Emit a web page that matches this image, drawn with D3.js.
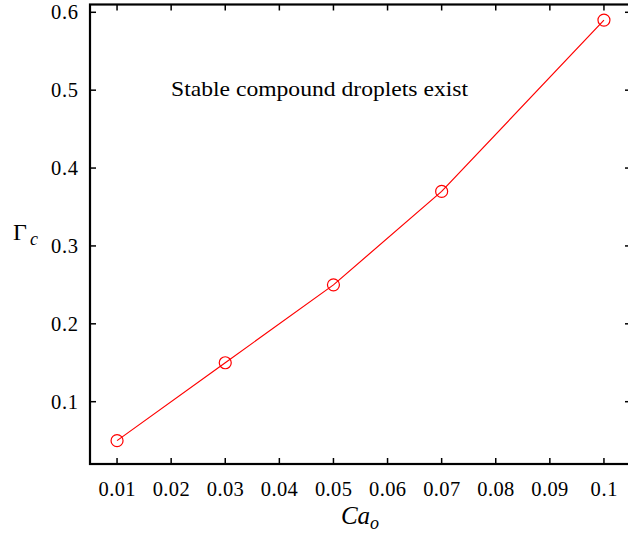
<!DOCTYPE html>
<html><head><meta charset="utf-8">
<script src="https://cdn.jsdelivr.net/npm/d3@7"></script>
<style>body{margin:0;background:#fff}text{font-family:"Liberation Serif","DejaVu Serif",serif;fill:#000}</style>
</head><body><svg id="c" width="628" height="537"></svg>
<script>
const caValues = [0.01, 0.03, 0.05, 0.07, 0.1];
const gammaValues = [0.05, 0.15, 0.25, 0.37, 0.59];
const xTicks = [0.01, 0.02, 0.03, 0.04, 0.05, 0.06, 0.07, 0.08, 0.09, 0.1];
const yTicks = [0.1, 0.2, 0.3, 0.4, 0.5, 0.6];
const annotation = "Stable compound droplets exist";

const svg = d3.select("#c");
const L = 90, R = 631, T = 4.5, B = 464;
const x = d3.scaleLinear().domain([0.005, 0.105]).range([L, R]);
const y = d3.scaleLinear().domain([0.02, 0.61]).range([B, T]);
const fmt = d => String(+d.toFixed(2));

// ticks (inward, mirrored)
const g = svg.append("g");
g.selectAll(".xb").data(xTicks).join("line").attr("x1", d => x(d)).attr("x2", d => x(d))
  .attr("y1", B).attr("y2", B - 6).attr("stroke", "#000").attr("stroke-width", 1.5);
g.selectAll(".xt").data(xTicks).join("line").attr("x1", d => x(d)).attr("x2", d => x(d))
  .attr("y1", T).attr("y2", T + 6).attr("stroke", "#000").attr("stroke-width", 1.5);
g.selectAll(".yl").data(yTicks).join("line").attr("x1", L).attr("x2", L + 6)
  .attr("y1", d => y(d)).attr("y2", d => y(d)).attr("stroke", "#000").attr("stroke-width", 1.5);
g.selectAll(".yr").data(yTicks).join("line").attr("x1", R).attr("x2", R - 6)
  .attr("y1", d => y(d)).attr("y2", d => y(d)).attr("stroke", "#000").attr("stroke-width", 1.5);

svg.append("rect").attr("x", L).attr("y", T).attr("width", R - L).attr("height", B - T)
  .attr("fill", "none").attr("stroke", "#000").attr("stroke-width", 2.2);

svg.selectAll(".xl").data(xTicks).join("text").attr("x", d => x(d)).attr("y", B + 32)
  .attr("text-anchor", "middle").attr("font-size", 20.5)
  .attr("textLength", d => fmt(d).length === 3 ? 27 : 37).attr("lengthAdjust", "spacing").text(fmt);
svg.selectAll(".ylab").data(yTicks).join("text").attr("x", L - 12).attr("y", d => y(d) + 7)
  .attr("text-anchor", "end").attr("font-size", 20.5)
  .attr("textLength", 27).attr("lengthAdjust", "spacing").text(fmt);

// line + markers
const pts = caValues.map((c, i) => [c, gammaValues[i]]);
svg.append("path").datum(pts).attr("fill", "none").attr("stroke", "#ff0000").attr("stroke-width", 1.2)
  .attr("d", d3.line().x(d => x(d[0])).y(d => y(d[1])));
svg.selectAll(".pt").data(pts).join("circle").attr("cx", d => x(d[0])).attr("cy", d => y(d[1]))
  .attr("r", 6).attr("fill", "none").attr("stroke", "#ff0000").attr("stroke-width", 1.2);

svg.append("text").attr("x", 171).attr("y", 96).attr("font-size", 22)
  .attr("textLength", 297).attr("lengthAdjust", "spacingAndGlyphs").text(annotation);

// axis labels
const yl = svg.append("text").attr("x", 13).attr("y", 240).attr("font-size", 24);
yl.append("tspan").text("Γ");
yl.append("tspan").attr("font-style", "italic").attr("font-size", 18).attr("dx", 3).attr("dy", 5).text("c");

const xl = svg.append("text").attr("x", 360).attr("y", 524).attr("text-anchor", "middle")
  .attr("font-size", 25).attr("font-style", "italic");
xl.append("tspan").text("Ca");
xl.append("tspan").attr("font-size", 18).attr("dy", 5).text("o");
</script></body></html>
